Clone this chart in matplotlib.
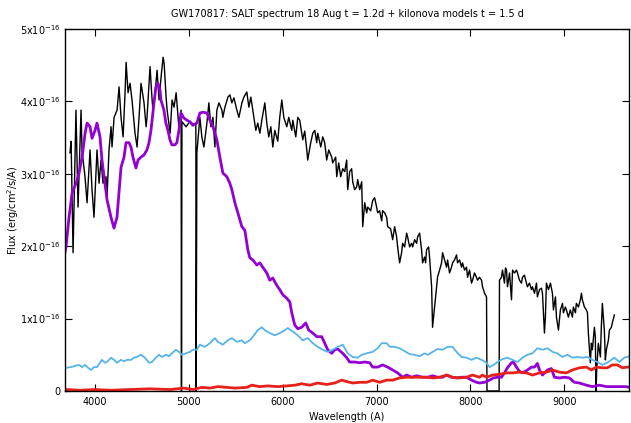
import matplotlib
matplotlib.use("Agg")
import matplotlib.pyplot as plt

# flux in units of 1e-16 erg/cm2/s/A, wavelength in A
salt_wl = [3733, 3745, 3766, 3797, 3819, 3851, 3861, 3893, 3915, 3947, 3968, 3989,
           4021, 4043, 4064, 4085, 4117, 4128, 4149, 4171, 4181, 4203, 4235, 4256,
           4277, 4299, 4320, 4331, 4352, 4373, 4394, 4426, 4448, 4469, 4490, 4522,
           4544, 4554, 4586, 4608, 4618, 4640, 4661, 4682, 4704, 4725, 4736, 4757,
           4768, 4800, 4821, 4842, 4864, 4896, 4917, 4921, 4926, 4970, 5010, 5050,
           5074, 5077, 5085, 5117, 5138, 5160, 5192, 5213, 5234, 5256, 5277, 5298,
           5320, 5352, 5362, 5384, 5416, 5437, 5458, 5480, 5511, 5533, 5565, 5586,
           5617, 5639, 5660, 5681, 5713, 5734, 5756, 5777, 5809, 5830, 5851, 5873,
           5894, 5915, 5947, 5968, 5990, 6011, 6043, 6064, 6096, 6107, 6139, 6160,
           6181, 6213, 6234, 6256, 6266, 6298, 6320, 6341, 6362, 6373, 6405, 6426,
           6447, 6468, 6490, 6522, 6532, 6564, 6575, 6596, 6617, 6639, 6660, 6681,
           6692, 6713, 6734, 6745, 6766, 6788, 6798, 6820, 6841, 6852, 6873, 6894,
           6905, 6937, 6958, 6979, 7000, 7011, 7032, 7054, 7064, 7086, 7107, 7118,
           7149, 7171, 7192, 7213, 7224, 7245, 7266, 7277, 7298, 7320, 7330, 7352,
           7373, 7384, 7405, 7426, 7437, 7458, 7479, 7490, 7511, 7522, 7532, 7554,
           7564, 7586, 7596, 7607, 7628, 7650, 7671, 7692, 7703, 7724, 7745, 7756,
           7777, 7798, 7809, 7830, 7852, 7862, 7884, 7905, 7915, 7937, 7958, 7969,
           7990, 8011, 8022, 8043, 8064, 8075, 8096, 8118, 8128, 8150, 8171, 8176,
           8305, 8309, 8330, 8341, 8362, 8373, 8384, 8394, 8416, 8437, 8448, 8469,
           8490, 8501, 8522, 8543, 8554, 8575, 8596, 8607, 8628, 8650, 8660, 8682,
           8703, 8713, 8735, 8756, 8767, 8788, 8798, 8809, 8831, 8852, 8873, 8884,
           8905, 8916, 8937, 8958, 8980, 8990, 9011, 9022, 9043, 9064, 9086, 9096,
           9118, 9128, 9150, 9171, 9182, 9192, 9214, 9235, 9246, 9256, 9277, 9288,
           9299, 9320, 9330, 9338, 9345, 9362, 9384, 9394, 9405, 9426, 9437, 9448,
           9469, 9480, 9501, 9511, 9533]
salt_flux = [3.29, 3.45, 1.91, 3.88, 2.54, 3.88, 3.33, 2.96, 2.60, 3.33, 2.78, 2.40,
             3.33, 2.87, 3.19, 2.87, 2.96, 2.68, 3.33, 3.65, 3.37, 3.78, 3.88, 4.20,
             3.78, 3.51, 4.12, 4.54, 4.12, 4.25, 4.02, 3.56, 3.37, 3.78, 4.25, 3.98,
             3.65, 3.78, 4.48, 4.02, 3.88, 4.12, 4.43, 4.02, 4.34, 4.61, 4.53, 4.06,
             3.88, 3.56, 4.02, 3.92, 4.12, 3.60, 3.88, 0.0, 3.72, 3.65, 3.72, 3.68,
             3.70, 0.0, 3.29, 3.78, 3.51, 3.37, 3.70, 3.98, 3.65, 3.78, 3.37, 3.88,
             3.98, 3.88, 3.78, 3.92, 4.06, 4.09, 3.98, 4.05, 3.88, 3.78, 3.98, 4.06,
             4.13, 3.92, 4.06, 3.88, 3.60, 3.70, 3.56, 3.74, 3.98, 3.70, 3.51, 3.65,
             3.37, 3.60, 3.45, 3.78, 4.02, 3.78, 3.65, 3.78, 3.60, 3.74, 3.51, 3.78,
             3.74, 3.47, 3.59, 3.33, 3.19, 3.43, 3.56, 3.60, 3.43, 3.56, 3.37, 3.51,
             3.43, 3.19, 3.33, 3.23, 3.15, 3.23, 2.96, 3.15, 2.96, 3.07, 3.03, 3.19,
             2.78, 3.03, 3.07, 2.89, 2.78, 2.82, 2.92, 2.78, 2.89, 2.27, 2.60, 2.46,
             2.54, 2.49, 2.63, 2.67, 2.54, 2.46, 2.49, 2.35, 2.49, 2.46, 2.40, 2.27,
             2.24, 2.09, 2.27, 2.13, 1.99, 1.77, 1.91, 2.04, 1.99, 2.18, 2.13, 1.99,
             2.04, 1.99, 2.09, 2.04, 2.13, 2.18, 1.95, 1.77, 1.85, 1.77, 1.95, 1.99,
             1.85, 1.44, 0.88, 1.02, 1.30, 1.58, 1.67, 1.77, 1.91, 1.81, 1.71, 1.81,
             1.63, 1.71, 1.77, 1.81, 1.88, 1.77, 1.81, 1.71, 1.77, 1.67, 1.71, 1.57,
             1.67, 1.49, 1.53, 1.63, 1.57, 1.53, 1.57, 1.53, 1.44, 1.35, 1.30, 0.0,
             0.0, 1.53, 1.57, 1.67, 1.49, 1.70, 1.67, 1.44, 1.63, 1.26, 1.67, 1.63,
             1.67, 1.63, 1.53, 1.49, 1.57, 1.60, 1.49, 1.44, 1.49, 1.40, 1.44, 1.35,
             1.49, 1.30, 1.40, 1.42, 1.35, 0.80, 1.02, 1.49, 1.40, 1.49, 1.35, 1.12,
             1.30, 1.02, 0.84, 1.12, 1.21, 1.08, 1.16, 1.12, 1.02, 1.12, 1.02, 1.16,
             1.08, 1.21, 1.16, 1.26, 1.35, 1.26, 1.16, 1.12, 1.08, 0.80, 0.39, 0.66,
             0.57, 0.88, 0.75, 0.0, 0.30, 0.66, 0.47, 0.88, 1.21, 0.84, 0.43, 0.57,
             0.70, 0.84, 0.88, 0.94, 1.05]

kn1_wl = [3681, 3691, 3723, 3755, 3798, 3830, 3862, 3894, 3915, 3947, 3968, 4000,
          4021, 4053, 4074, 4106, 4128, 4170, 4202, 4234, 4255, 4277, 4309, 4330,
          4362, 4383, 4404, 4436, 4458, 4489, 4521, 4553, 4575, 4596, 4628, 4649,
          4670, 4692, 4702, 4734, 4755, 4777, 4798, 4819, 4851, 4872, 4894, 4915,
          4947, 4979, 5011, 5043, 5085, 5117, 5149, 5192, 5224, 5256, 5298, 5330,
          5362, 5404, 5436, 5458, 5490, 5522, 5564, 5596, 5628, 5649, 5681, 5724,
          5756, 5787, 5830, 5862, 5894, 5936, 5968, 6000, 6043, 6075, 6096, 6128,
          6160, 6202, 6245, 6277, 6320, 6362, 6415, 6447, 6479, 6522, 6554, 6586,
          6639, 6681, 6713, 6766, 6820, 6873, 6926, 6958, 7011, 7064, 7118, 7171,
          7224, 7277, 7320, 7373, 7426, 7490, 7543, 7596, 7650, 7703, 7745, 7798,
          7852, 7905, 7958, 8011, 8064, 8096, 8150, 8203, 8245, 8288, 8330, 8362,
          8394, 8437, 8458, 8490, 8522, 8554, 8596, 8650, 8682, 8713, 8735, 8767,
          8820, 8862, 8894, 8948, 9000, 9054, 9107, 9160, 9235, 9299, 9373, 9448,
          9511, 9586, 9660, 9690]
kn1_flux = [1.92, 1.99, 2.40, 2.73, 2.87, 3.01, 3.23, 3.56, 3.70, 3.65, 3.49, 3.60,
            3.70, 3.51, 3.19, 2.87, 2.64, 2.40, 2.25, 2.40, 2.73, 3.09, 3.23, 3.43,
            3.43, 3.37, 3.23, 3.08, 3.19, 3.23, 3.26, 3.33, 3.43, 3.60, 3.98, 4.20,
            4.25, 4.16, 4.02, 3.88, 3.70, 3.60, 3.47, 3.40, 3.40, 3.43, 3.60, 3.84,
            3.77, 3.74, 3.72, 3.67, 3.70, 3.84, 3.85, 3.84, 3.74, 3.65, 3.47, 3.23,
            3.01, 2.96, 2.87, 2.78, 2.60, 2.46, 2.27, 2.22, 1.95, 1.84, 1.81, 1.74,
            1.77, 1.71, 1.63, 1.53, 1.56, 1.46, 1.40, 1.33, 1.28, 1.23, 1.08, 0.91,
            0.86, 0.88, 0.94, 0.84, 0.80, 0.75, 0.75, 0.66, 0.57, 0.52, 0.57, 0.58,
            0.52, 0.46, 0.40, 0.40, 0.39, 0.40, 0.39, 0.33, 0.33, 0.36, 0.33, 0.29,
            0.25, 0.19, 0.22, 0.19, 0.21, 0.19, 0.19, 0.21, 0.19, 0.19, 0.22, 0.19,
            0.18, 0.19, 0.19, 0.15, 0.12, 0.11, 0.12, 0.15, 0.18, 0.19, 0.19, 0.25,
            0.32, 0.39, 0.40, 0.33, 0.27, 0.25, 0.28, 0.33, 0.33, 0.38, 0.29, 0.22,
            0.29, 0.31, 0.19, 0.18, 0.19, 0.18, 0.12, 0.11, 0.08, 0.06, 0.08, 0.06,
            0.06, 0.06, 0.06, 0.05]

kn2_wl = [3681, 3691, 3745, 3798, 3830, 3862, 3894, 3926, 3957, 3989, 4021, 4053,
          4074, 4106, 4128, 4170, 4202, 4234, 4277, 4309, 4340, 4383, 4415, 4447,
          4489, 4532, 4575, 4606, 4649, 4681, 4713, 4755, 4787, 4819, 4862, 4894,
          4926, 4968, 5011, 5043, 5085, 5117, 5170, 5224, 5277, 5309, 5362, 5415,
          5458, 5511, 5564, 5596, 5649, 5681, 5734, 5777, 5809, 5862, 5915, 5968,
          6022, 6054, 6107, 6160, 6213, 6266, 6320, 6373, 6426, 6479, 6532, 6586,
          6639, 6692, 6745, 6798, 6841, 6894, 6958, 7011, 7054, 7107, 7139, 7192,
          7245, 7298, 7352, 7405, 7458, 7511, 7543, 7596, 7650, 7703, 7756, 7809,
          7852, 7905, 7958, 8011, 8064, 8118, 8171, 8203, 8245, 8288, 8341, 8394,
          8448, 8501, 8554, 8607, 8660, 8713, 8767, 8820, 8873, 8926, 8980, 9033,
          9086, 9139, 9192, 9246, 9299, 9352, 9405, 9458, 9501, 9533, 9586, 9639,
          9671, 9690]
kn2_flux = [0.31, 0.32, 0.33, 0.35, 0.36, 0.33, 0.36, 0.32, 0.29, 0.33, 0.33, 0.39,
            0.43, 0.39, 0.40, 0.46, 0.43, 0.39, 0.43, 0.41, 0.43, 0.43, 0.46, 0.47,
            0.50, 0.46, 0.39, 0.40, 0.46, 0.50, 0.47, 0.50, 0.48, 0.52, 0.57, 0.54,
            0.50, 0.52, 0.54, 0.57, 0.57, 0.64, 0.61, 0.66, 0.73, 0.68, 0.64, 0.70,
            0.73, 0.68, 0.70, 0.66, 0.70, 0.75, 0.84, 0.88, 0.84, 0.80, 0.77, 0.80,
            0.84, 0.87, 0.82, 0.77, 0.70, 0.73, 0.66, 0.61, 0.57, 0.54, 0.57, 0.61,
            0.64, 0.52, 0.47, 0.46, 0.50, 0.52, 0.54, 0.59, 0.66, 0.66, 0.61, 0.61,
            0.59, 0.55, 0.51, 0.50, 0.48, 0.52, 0.50, 0.54, 0.58, 0.57, 0.61, 0.61,
            0.54, 0.47, 0.46, 0.43, 0.46, 0.43, 0.39, 0.33, 0.36, 0.40, 0.44, 0.46,
            0.43, 0.40, 0.46, 0.50, 0.52, 0.59, 0.57, 0.59, 0.54, 0.52, 0.47, 0.50,
            0.46, 0.47, 0.46, 0.47, 0.43, 0.40, 0.36, 0.39, 0.43, 0.46, 0.40, 0.46,
            0.47, 0.48]

kn3_wl = [3681, 3691, 3840, 4000, 4160, 4372, 4585, 4798, 4947, 5043, 5138, 5224,
          5309, 5404, 5490, 5617, 5670, 5756, 5841, 5947, 6043, 6128, 6202, 6288,
          6373, 6468, 6554, 6628, 6681, 6745, 6820, 6894, 6958, 7032, 7107, 7171,
          7245, 7320, 7384, 7458, 7532, 7596, 7671, 7745, 7809, 7884, 7958, 8022,
          8096, 8128, 8171, 8235, 8309, 8384, 8448, 8522, 8596, 8660, 8735, 8809,
          8873, 8948, 9022, 9086, 9160, 9235, 9288, 9341, 9405, 9458, 9511, 9565,
          9618, 9671, 9690]
kn3_flux = [0.02, 0.02, 0.01, 0.02, 0.01, 0.02, 0.03, 0.02, 0.04, 0.02, 0.05, 0.04,
            0.06, 0.05, 0.04, 0.05, 0.08, 0.06, 0.07, 0.06, 0.07, 0.08, 0.10, 0.08,
            0.11, 0.09, 0.11, 0.15, 0.13, 0.11, 0.12, 0.12, 0.15, 0.12, 0.15, 0.15,
            0.18, 0.19, 0.19, 0.19, 0.19, 0.18, 0.19, 0.22, 0.19, 0.18, 0.19, 0.22,
            0.19, 0.22, 0.19, 0.22, 0.23, 0.25, 0.25, 0.26, 0.25, 0.22, 0.25, 0.26,
            0.29, 0.26, 0.25, 0.29, 0.32, 0.33, 0.29, 0.33, 0.32, 0.32, 0.36, 0.36,
            0.32, 0.33, 0.33]

x_ticks = [4000, 5000, 6000, 7000, 8000, 9000]
y_ticks = [0, 1, 2, 3, 4, 5]
y_labels = ["0"] + ["%dx10$^{-16}$" % v for v in y_ticks[1:]]

plt.rcParams["font.size"] = 7
fig = plt.figure(figsize=(6.31, 4.23), dpi=100)
ax = fig.add_axes([0.103, 0.0757, 0.894, 0.8557])

ax.plot(salt_wl, salt_flux, color="black", lw=1.0)
ax.plot(kn1_wl, kn1_flux, color="#9400D3", lw=2.0)
ax.plot(kn2_wl, kn2_flux, color="#56B4E9", lw=1.3)
ax.plot(kn3_wl, kn3_flux, color="#E8201A", lw=2.0)

ax.set_xlim(3680, 9690)
ax.set_ylim(0, 5)
ax.set_xticks(x_ticks)
ax.set_yticks(y_ticks)
ax.set_yticklabels(y_labels)
ax.tick_params(direction="in", top=True, right=True, length=5, width=0.8, labelsize=7)
ax.tick_params(axis="x", pad=4)
ax.tick_params(axis="y", pad=3)
for s in ax.spines.values():
    s.set_linewidth(1.0)

ax.set_xlabel("Wavelength (A)", fontsize=7)
ax.xaxis.set_label_coords(0.5, -0.058)
ax.set_ylabel("Flux (erg/cm$^2$/s/A)", fontsize=7)
ax.yaxis.set_label_coords(-0.078, 0.5)
ax.set_title("GW170817: SALT spectrum 18 Aug t = 1.2d + kilonova models t = 1.5 d",
             fontsize=7, pad=9)

fig.savefig("out.png", dpi=100)
